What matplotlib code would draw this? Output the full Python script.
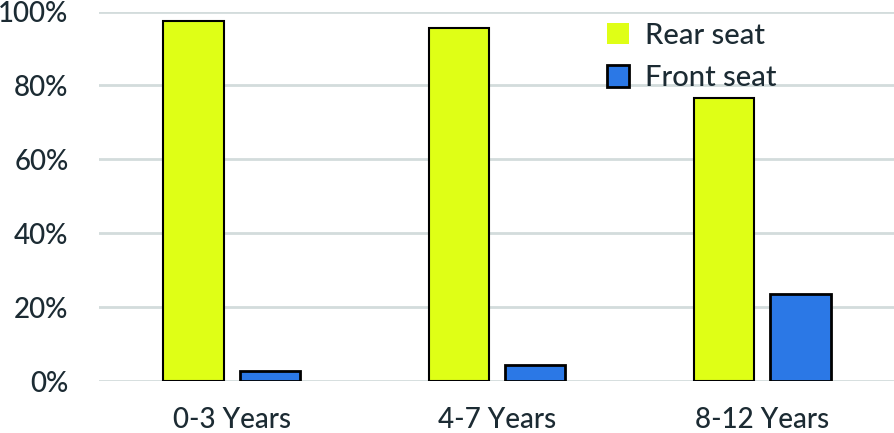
import matplotlib.pyplot as plt
import numpy as np
from matplotlib.patches import Patch

categories = ["0-3 Years", "4-7 Years", "8-12 Years"]
rear_seat = [97.4, 95.6, 76.5]
front_seat = [2.7, 4.3, 23.6]
yticks = [0, 20, 40, 60, 80, 100]

plt.rcParams['font.family'] = ['Lato', 'DejaVu Sans']
plt.rcParams['font.weight'] = 'medium'
txt = '#1c2b33'

fig = plt.figure(figsize=(8.95, 4.33), dpi=100)
ax = fig.add_axes([99/895, 1 - 381/433, 796/895, 369.5/433])

x = np.arange(len(categories))
w = 0.227
ax.bar(x - 0.144, rear_seat, w, color='#dfff16', edgecolor='black', linewidth=1.5, zorder=3)
ax.bar(x + 0.144, front_seat, w, color='#2b78e6', edgecolor='black', linewidth=2, zorder=3)

ax.set_xlim(-0.5, 2.5)
ax.set_ylim(0, 100)
ax.set_yticks(yticks)
ax.set_yticklabels([f"{v}%" for v in yticks])
ax.set_xticks(x)
ax.set_xticklabels(categories)
ax.tick_params(axis='both', length=0, labelsize=20, colors=txt)
ax.tick_params(axis='x', pad=19)
ax.tick_params(axis='y', pad=22)
ax.grid(axis='y', color='#d3dcdc', linewidth=2, zorder=0)
for s in ax.spines.values():
    s.set_visible(False)

handles = [Patch(facecolor='#dfff16', edgecolor='none', label='Rear seat'),
           Patch(facecolor='#2b78e6', edgecolor='black', linewidth=2, label='Front seat')]
ax.legend(handles=handles, loc='upper left', bbox_to_anchor=(0.605, 1.04), frameon=False,
          fontsize=21, labelcolor=txt, handlelength=0.75, handleheight=0.75,
          handletextpad=0.55, labelspacing=0.55)

fig.savefig('out.png', dpi=100)
